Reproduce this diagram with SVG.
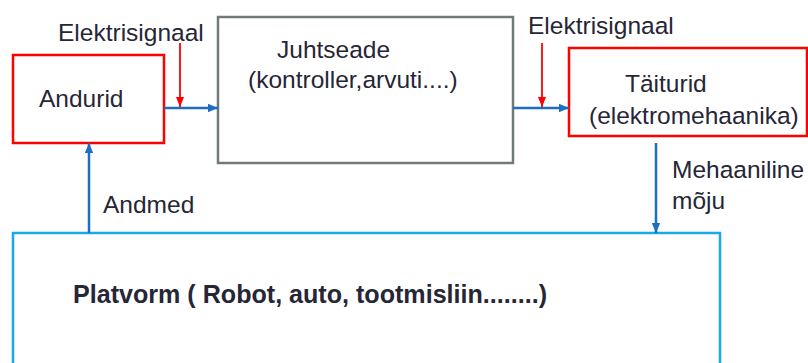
<svg xmlns="http://www.w3.org/2000/svg" width="808" height="363" viewBox="0 0 808 363">
<style>
text{font-family:"Liberation Sans",Arial,sans-serif;font-size:24.5px;fill:#262636}
.b{font-weight:bold;font-size:25.1px}
.red{fill:#fff;stroke:#ff0000;stroke-width:2.5}
.grey{fill:#fff;stroke:#6f7b76;stroke-width:2.5}
.plat{fill:#fff;stroke:#1aa7ec;stroke-width:2.5}
.blue{stroke:#1b6ec2;stroke-width:2.5;fill:none}
.rl{stroke:#ff0000;stroke-width:1.8;fill:none}
</style>
<defs>
<marker id="ab" markerUnits="userSpaceOnUse" markerWidth="10" markerHeight="10" refX="10" refY="5" orient="auto"><path d="M0,0.8 L10,5 L0,9.2 Z" fill="#1b6ec2"/></marker>
<marker id="ar" markerUnits="userSpaceOnUse" markerWidth="10" markerHeight="10" refX="10" refY="5" orient="auto"><path d="M0,1 L10,5 L0,9 Z" fill="#ff0000"/></marker>
</defs>
<rect width="808" height="363" fill="#fff"/>
<g id="platvorm"><rect class="plat" x="13" y="233" width="707" height="140"/><text class="b" x="73" y="303">Platvorm ( Robot, auto, tootmisliin........)</text></g>
<g id="andurid"><rect class="red" x="13" y="55" width="151" height="88"/><text x="39" y="107">Andurid</text></g>
<g id="juhtseade"><rect class="grey" x="218" y="17" width="295" height="146"/><text x="277" y="58">Juhtseade</text><text x="248" y="88">(kontroller,arvuti....)</text></g>
<g id="taiturid"><rect class="red" x="569" y="48" width="238" height="88"/><text x="625" y="92">Täiturid</text><text x="589" y="124">(elektromehaanika)</text></g>
<g id="connectors">
<line class="blue" x1="164" y1="108" x2="218" y2="108" marker-end="url(#ab)"/>
<line class="blue" x1="513" y1="108" x2="569" y2="108" marker-end="url(#ab)"/>
<line class="rl" x1="180" y1="43" x2="180" y2="107" marker-end="url(#ar)"/>
<line class="rl" x1="542" y1="43" x2="542" y2="107" marker-end="url(#ar)"/>
<line class="blue" x1="89" y1="233" x2="89" y2="143" marker-end="url(#ab)"/>
<line class="blue" x1="656" y1="143" x2="656" y2="233" marker-end="url(#ab)"/>
</g>
<g id="labels">
<text x="58" y="41">Elektrisignaal</text>
<text x="528" y="34">Elektrisignaal</text>
<text x="103" y="213">Andmed</text>
<text x="672" y="178">Mehaaniline</text>
<text x="672" y="209">mõju</text>
</g>
</svg>
